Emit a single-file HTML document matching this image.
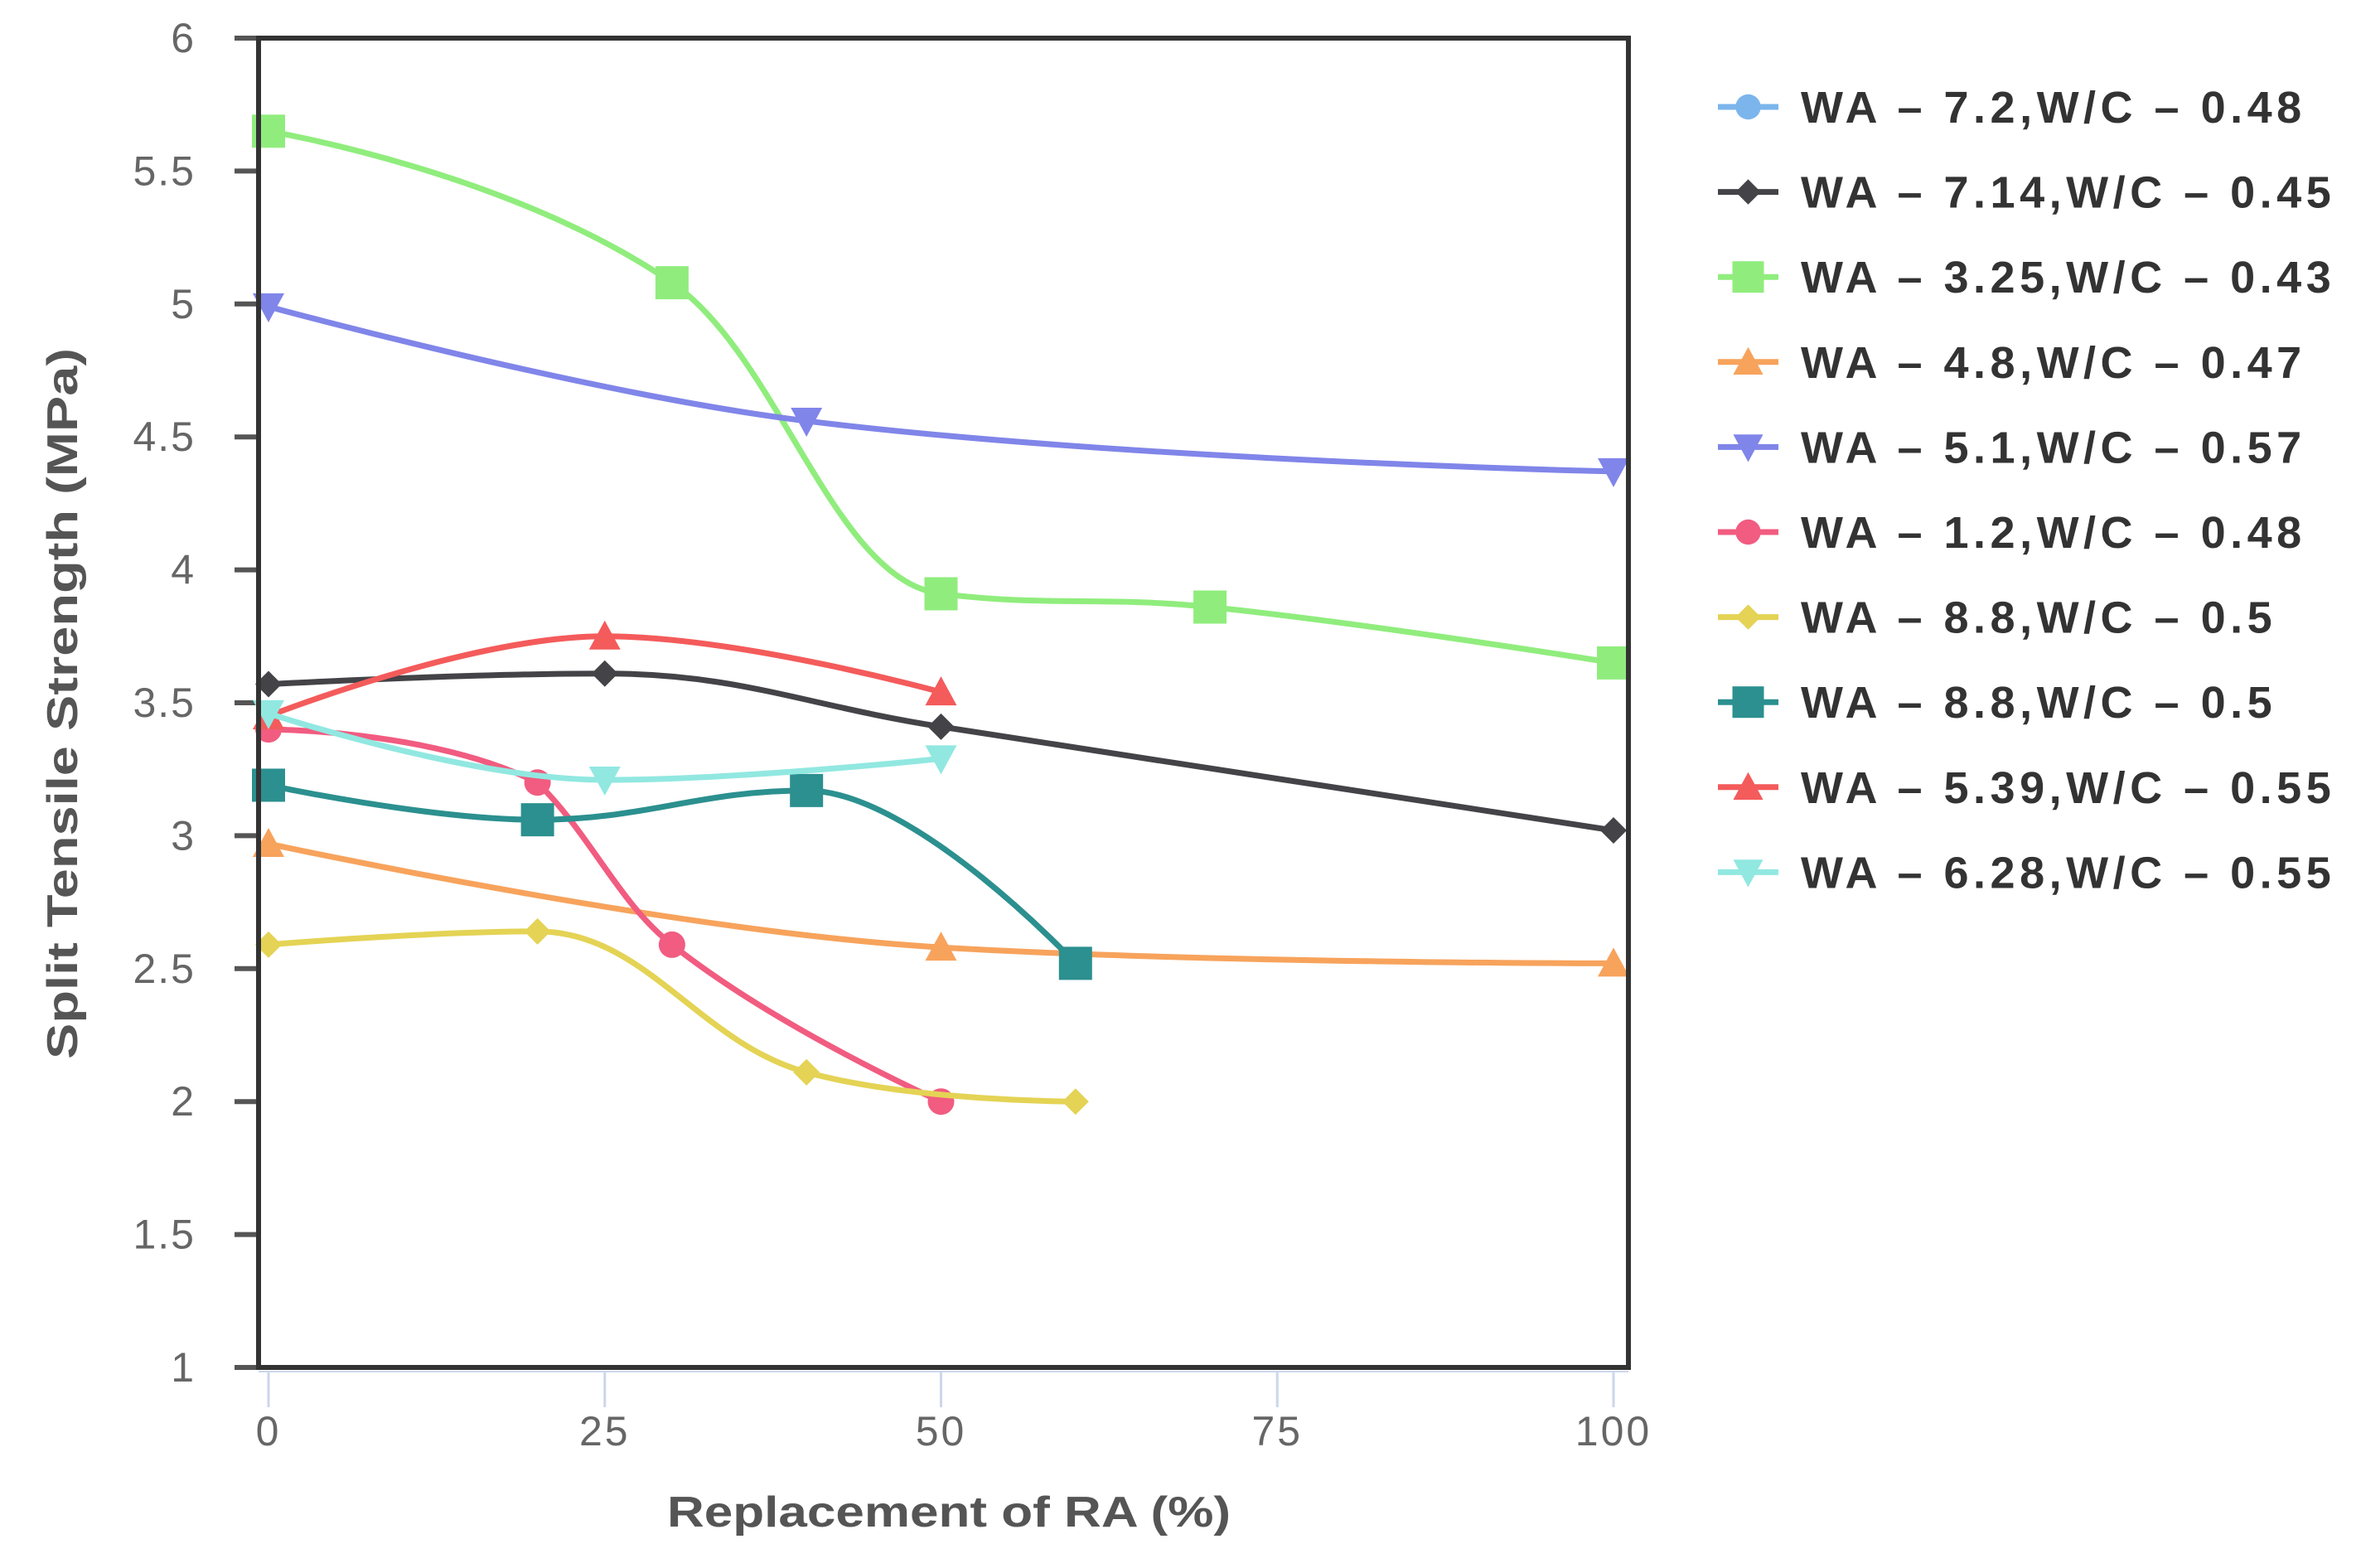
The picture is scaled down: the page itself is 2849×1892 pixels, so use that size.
<!DOCTYPE html>
<html><head><meta charset="utf-8"><style>
html,body{margin:0;padding:0;background:#fff;}
svg{display:block;font-family:"Liberation Sans","DejaVu Sans",sans-serif;}
</style></head><body>
<svg id="chart" width="2849" height="1892" viewBox="0 0 2849 1892" xmlns="http://www.w3.org/2000/svg">
<rect width="2849" height="1892" fill="#fff"/>
<g id="axes"></g>
<g id="series"></g>
<rect x="312" y="46" width="1653" height="1604" fill="none" stroke="#333" stroke-width="6"/>
<text x="1145" y="1842" text-anchor="middle" font-size="52" font-weight="bold" fill="#555" textLength="680" lengthAdjust="spacingAndGlyphs">Replacement of RA (%)</text>
<text transform="translate(93,849) rotate(-90)" text-anchor="middle" font-size="52" font-weight="bold" fill="#555" textLength="858" lengthAdjust="spacingAndGlyphs">Split Tensile Strength (MPa)</text>
<g id="legend"></g>
</svg>
<script>
const xTicks = [0, 25, 50, 75, 100];
const yTicks = [1, 1.5, 2, 2.5, 3, 3.5, 4, 4.5, 5, 5.5, 6];
const yTickLabels = ["1","1.5","2","2.5","3","3.5","4","4.5","5","5.5","6"];
const seriesNames = ["WA – 7.2,W/C – 0.48","WA – 7.14,W/C – 0.45","WA – 3.25,W/C – 0.43","WA – 4.8,W/C – 0.47","WA – 5.1,W/C – 0.57","WA – 1.2,W/C – 0.48","WA – 8.8,W/C – 0.5","WA – 8.8,W/C – 0.5","WA – 5.39,W/C – 0.55","WA – 6.28,W/C – 0.55"];
const seriesColors = ["#7cb5ec","#434348","#90ed7d","#f7a35c","#8085e9","#f15c80","#e4d354","#2b908f","#f45b5b","#91e8e1"];
const seriesMarkers = ["circle","diamond","square","triangle","triangle-down","circle","diamond","square","triangle","triangle-down"];
const xs0 = [], ys0 = [];
const xs1 = [0, 25, 50, 100], ys1 = [3.57, 3.61, 3.41, 3.02];
const xs2 = [0, 30, 50, 70, 100], ys2 = [5.65, 5.08, 3.91, 3.86, 3.65];
const xs3 = [0, 50, 100], ys3 = [2.97, 2.58, 2.52];
const xs4 = [0, 40, 100], ys4 = [4.99, 4.56, 4.37];
const xs5 = [0, 20, 30, 50], ys5 = [3.40, 3.20, 2.59, 2.00];
const xs6 = [0, 20, 40, 60], ys6 = [2.59, 2.64, 2.11, 2.00];
const xs7 = [0, 20, 40, 60], ys7 = [3.19, 3.06, 3.17, 2.52];
const xs8 = [0, 25, 50], ys8 = [3.45, 3.75, 3.54];
const xs9 = [0, 25, 50], ys9 = [3.46, 3.21, 3.29];
const allX = [xs0,xs1,xs2,xs3,xs4,xs5,xs6,xs7,xs8,xs9];
const allY = [ys0,ys1,ys2,ys3,ys4,ys5,ys6,ys7,ys8,ys9];

const NS = "http://www.w3.org/2000/svg";
function xScale(v){ return 324 + (v - 0) * (1947 - 324) / 100; }
function yScale(v){ return 1650 - (v - 1) * (1650 - 46) / 5; }
function mk(tag, attrs, parent){ const e = document.createElementNS(NS, tag); for (const k in attrs) e.setAttribute(k, attrs[k]); parent.appendChild(e); return e; }

const axes = document.getElementById('axes');
xTicks.forEach((t) => {
  const x = xScale(t);
  const l = mk('line', {x1:x, y1:1655, x2:x, y2:1698, stroke:'#ccd6eb', 'stroke-width':3}, axes);
  
  
  const tx = mk('text', {x:x, y:1744, 'text-anchor':'middle', 'font-size':50, fill:'#666', 'letter-spacing':'3'}, axes);
  tx.textContent = String(t);
  
  
});
mk('line', {x1:312, y1:1655, x2:1965, y2:1655, stroke:'#ccd6eb', 'stroke-width':2}, axes);
yTicks.forEach((t, i) => {
  const y = yScale(t);
  const l = mk('line', {x1:283, y1:y, x2:312, y2:y, stroke:'#555', 'stroke-width':6}, axes);
  
  
  const tx = mk('text', {x:236, y:y + 17, 'text-anchor':'end', 'font-size':50, fill:'#666', 'letter-spacing':'2'}, axes);
  tx.textContent = yTickLabels[i];
  
  
});

function splinePath(px, py){
  if (!px.length) return '';
  const s = 1.5, d = 2.5;
  const lc = [], rc = [];
  for (let i = 0; i < px.length; i++){
    if (i === 0 || i === px.length - 1){ lc.push([px[i],py[i]]); rc.push([px[i],py[i]]); continue; }
    const lx = px[i-1], ly = py[i-1], nx = px[i+1], ny = py[i+1], x = px[i], y = py[i];
    let lcx = (s*x + lx)/d, lcy = (s*y + ly)/d, rcx = (s*x + nx)/d, rcy = (s*y + ny)/d;
    if (rcx !== lcx){
      const corr = ((rcy - lcy) * (rcx - x)) / (rcx - lcx) + y - rcy;
      lcy += corr; rcy += corr;
    }
    if (lcy > ly && lcy > y){ lcy = Math.max(ly, y); rcy = 2*y - lcy; }
    else if (lcy < ly && lcy < y){ lcy = Math.min(ly, y); rcy = 2*y - lcy; }
    if (rcy > ny && rcy > y){ rcy = Math.max(ny, y); lcy = 2*y - rcy; }
    else if (rcy < ny && rcy < y){ rcy = Math.min(ny, y); lcy = 2*y - rcy; }
    lc.push([lcx,lcy]); rc.push([rcx,rcy]);
  }
  let p = 'M' + px[0] + ' ' + py[0];
  for (let i = 1; i < px.length; i++){
    p += ' C' + rc[i-1][0] + ' ' + rc[i-1][1] + ' ' + lc[i][0] + ' ' + lc[i][1] + ' ' + px[i] + ' ' + py[i];
  }
  return p;
}

function marker(type, x, y, color, parent, scale){
  const k = scale || 1;
  if (type === 'circle') return mk('circle', {cx:x, cy:y, r:16*k, fill:color}, parent);
  if (type === 'square') return mk('rect', {x:x-20*k, y:y-20*k, width:40*k, height:40*k, fill:color}, parent);
  if (type === 'diamond') return mk('path', {d:`M${x} ${y-16*k} L${x+16*k} ${y} L${x} ${y+16*k} L${x-16*k} ${y} Z`, fill:color}, parent);
  if (type === 'triangle') return mk('path', {d:`M${x} ${y-19*k} L${x+19*k} ${y+16*k} L${x-19*k} ${y+16*k} Z`, fill:color}, parent);
  return mk('path', {d:`M${x} ${y+19*k} L${x+19*k} ${y-16*k} L${x-19*k} ${y-16*k} Z`, fill:color}, parent);
}

const sg = document.getElementById('series');
for (let si = 0; si < allX.length; si++){
  const px = allX[si].map(xScale), py = allY[si].map(yScale);
  const g = mk('g', {}, sg);
  
  
  if (px.length){
    const path = mk('path', {d:splinePath(px, py), fill:'none', stroke:seriesColors[si], 'stroke-width':7, 'stroke-linejoin':'round', 'stroke-linecap':'round'}, g);
    
    
  }
  for (let i = 0; i < px.length; i++){
    const m = marker(seriesMarkers[si], px[i], py[i], seriesColors[si], g);
    
    
  }
}

const lg = document.getElementById('legend');
seriesNames.forEach((name, i) => {
  const y = 129 + i * 102.6;
  const g = mk('g', {}, lg);
  
  
  mk('line', {x1:2073, y1:y, x2:2146, y2:y, stroke:seriesColors[i], 'stroke-width':7}, g);
  marker(seriesMarkers[i], 2109.5, y, seriesColors[i], g, 0.95);
  const t = mk('text', {x:2173, y:y + 19, 'font-size':54, 'font-weight':'bold', fill:'#333', 'letter-spacing':'5.5'}, g);
  t.textContent = name;
});
</script>
</body></html>
